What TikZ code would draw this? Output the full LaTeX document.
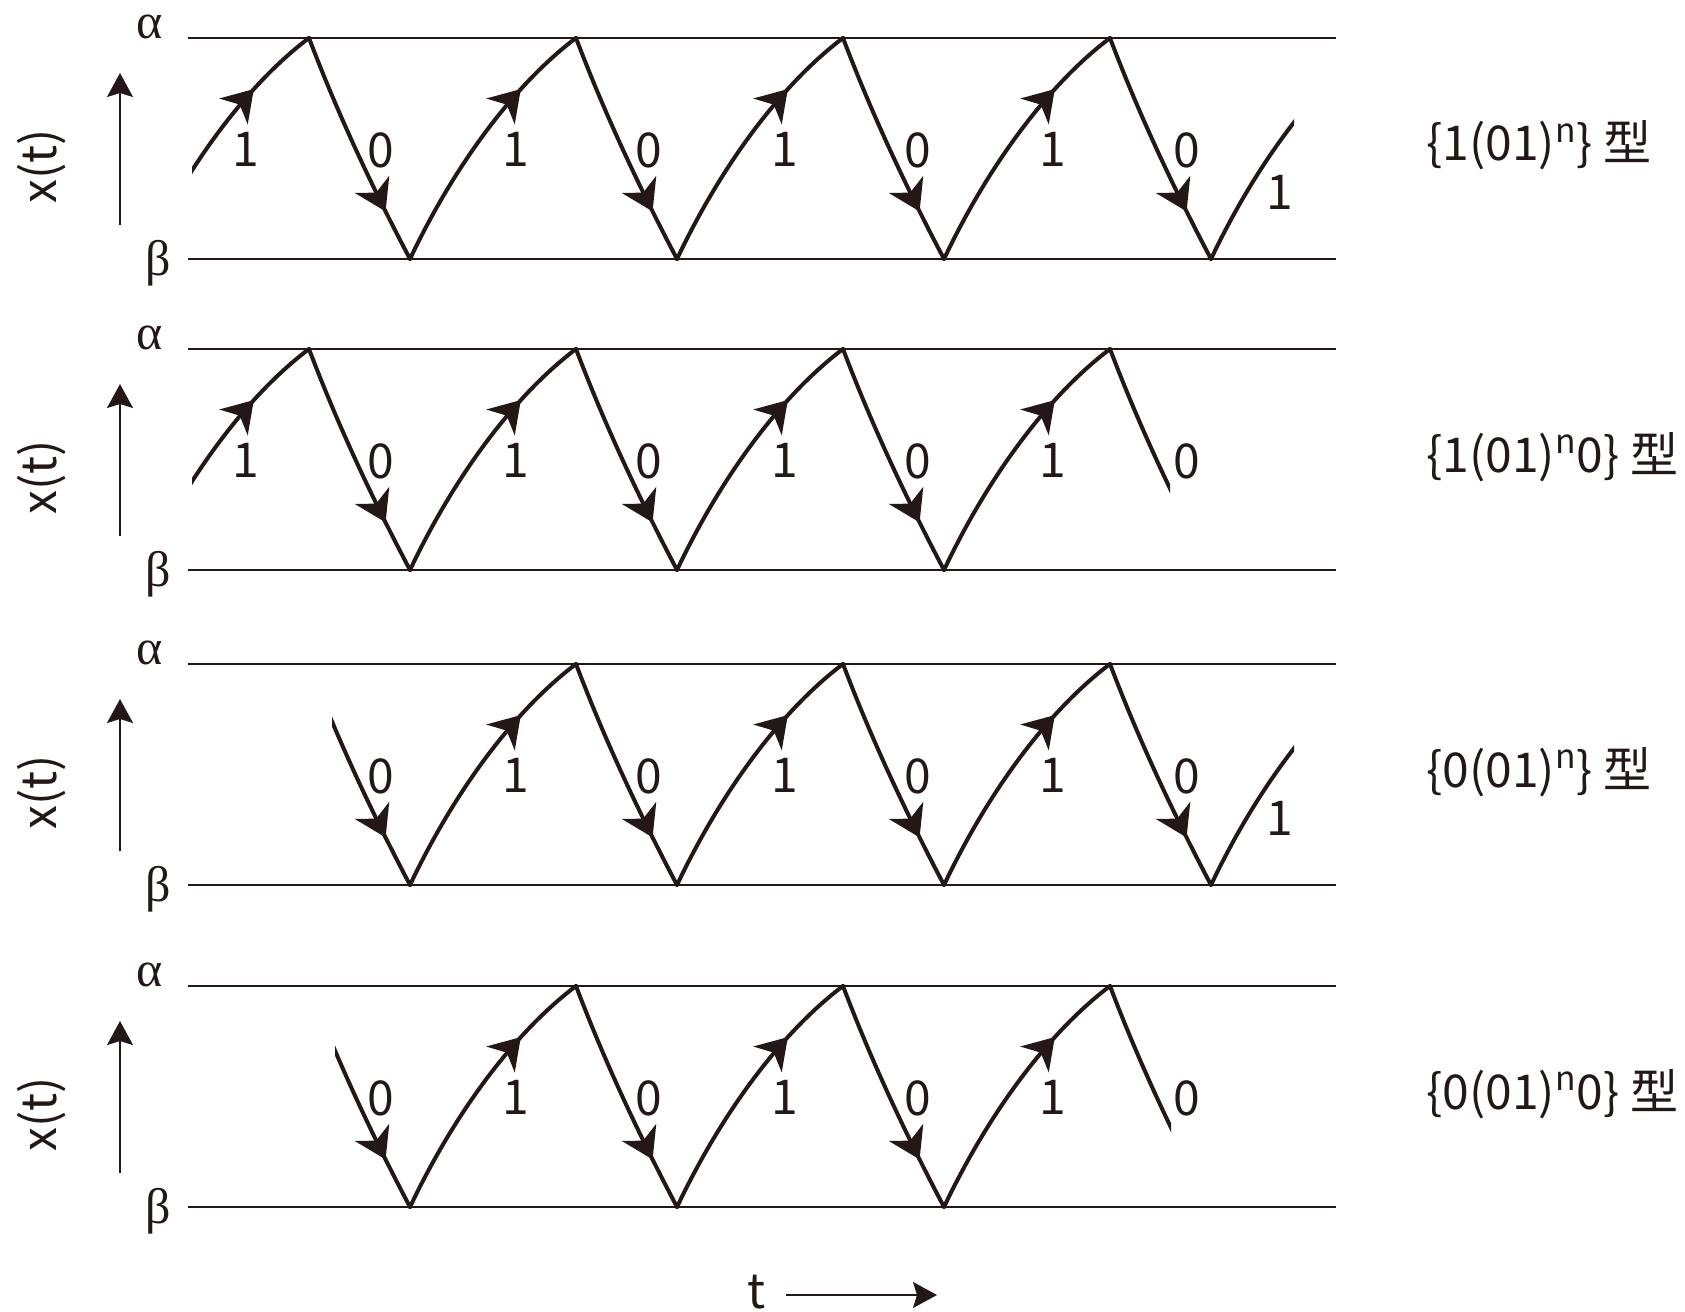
\documentclass[tikz,border=0pt]{standalone}
\usepackage{fontspec}
\setmainfont{Noto Sans CJK SC}
\newfontfamily\grkfont{Liberation Serif}
\usetikzlibrary{arrows.meta,decorations.markings}
\definecolor{ink}{RGB}{35,24,21}
% one rising / falling branch, #2 = start x, #3 = alpha level y
\newcommand{\rise}[3][]{\draw[trace,#1] (#2,#3+221) .. controls +(45,-95) and +(-61,46) .. (#2+166,#3);}
\newcommand{\fall}[3][]{\draw[trace,#1] (#2,#3) .. controls +(28,74) and +(-39,-74) .. (#2+101,#3+221);}
% levels, symbols and axis of one panel
\newcommand{\panel}[3]{%
  \coordinate (a#2) at (188,#1); \coordinate (ae#2) at (1336,#1);
  \coordinate (b#2) at (188,#1+221); \coordinate (be#2) at (1336,#1+221);
  \draw[level] (a#2) -- (ae#2);
  \draw[level] (b#2) -- (be#2);
  \node[sym] (alpha#2) at (150,#1-11) {α};
  \node[sym] (beta#2) at (158,#1+225) {β};
  \coordinate (ylo#2) at (120,#1+187); \coordinate (yhi#2) at (120,#1+35);
  \draw[axis] (ylo#2) -- (yhi#2);
  \node[rotate=90,inner sep=0pt] (xt#2) at (42,#1+128) {x(t)};
  \node[kind] (kind#2) at (1426,#1+123) {#3};
}

\begin{document}
\begin{tikzpicture}[x=0.5pt,y=-0.5pt,color=ink,font=\fontsize{24}{28}\selectfont,
  level/.style={draw=ink,line width=1pt},
  trace/.style={draw=ink,line width=2pt,line cap=round},
  axis/.style={draw=ink,line width=0.8pt,-{Stealth[length=12pt,width=13pt,inset=2pt]}},
  upmark/.style={postaction={decorate},decoration={markings,mark=at position 0.73 with {\arrow{Stealth[length=15pt,width=19pt,inset=4.5pt]}}}},
  downmark/.style={postaction={decorate},decoration={markings,mark=at position 0.78 with {\arrow{Stealth[length=15pt,width=19pt,inset=4.5pt]}}}},
  sym/.style={font=\grkfont\fontsize{25}{28}\selectfont,inner sep=0pt},
  bit/.style={inner sep=0pt},
  kind/.style={anchor=base west,inner sep=0pt},
]
\useasboundingbox (0,0) rectangle (1685,1311);

% {1(01)^n}
\panel{38}{1}{\{1(01)\textsuperscript{n}\} 型}
\begin{scope} \clip (192,0) rectangle (320,300); \rise[upmark]{143}{38} \end{scope}
\foreach \x in {309,576,843,1110} {\fall[downmark]{\x}{38}}
\foreach \x in {410,677,944} {\rise[upmark]{\x}{38}}
\begin{scope} \clip (1200,0) rectangle (1294,300); \rise{1211}{38} \end{scope}
\foreach \x in {246,516,785,1053} {\node[bit] at (\x,149) {1};}
\foreach \x in {381,649,918,1187} {\node[bit] at (\x,150) {0};}
\node[bit] at (1280,192) {1};

% {1(01)^n 0}
\panel{349}{2}{\{1(01)\textsuperscript{n}0\} 型}
\begin{scope} \clip (192,300) rectangle (320,600); \rise[upmark]{143}{349} \end{scope}
\foreach \x in {309,576,843} {\fall[downmark]{\x}{349}}
\foreach \x in {410,677,944} {\rise[upmark]{\x}{349}}
\begin{scope} \clip (1100,300) rectangle (1170,600); \fall{1110}{349} \end{scope}
\foreach \x in {246,516,785,1053} {\node[bit] at (\x,460) {1};}
\foreach \x in {381,649,918,1187} {\node[bit] at (\x,461) {0};}

% {0(01)^n}
\panel{664}{3}{\{0(01)\textsuperscript{n}\} 型}
\begin{scope} \clip (332,600) rectangle (420,900); \fall[downmark]{309}{664} \end{scope}
\foreach \x in {576,843,1110} {\fall[downmark]{\x}{664}}
\foreach \x in {410,677,944} {\rise[upmark]{\x}{664}}
\begin{scope} \clip (1200,600) rectangle (1294,900); \rise{1211}{664} \end{scope}
\foreach \x in {516,785,1053} {\node[bit] at (\x,775) {1};}
\foreach \x in {381,649,918,1187} {\node[bit] at (\x,776) {0};}
\node[bit] at (1280,818) {1};

% {0(01)^n 0}
\panel{986}{4}{\{0(01)\textsuperscript{n}0\} 型}
\begin{scope} \clip (335,950) rectangle (420,1230); \fall[downmark]{309}{986} \end{scope}
\foreach \x in {576,843} {\fall[downmark]{\x}{986}}
\foreach \x in {410,677,944} {\rise[upmark]{\x}{986}}
\begin{scope} \clip (1100,950) rectangle (1171,1230); \fall{1110}{986} \end{scope}
\foreach \x in {516,785,1053} {\node[bit] at (\x,1097) {1};}
\foreach \x in {381,649,918,1187} {\node[bit] at (\x,1098) {0};}

% time axis
\node[anchor=base,inner sep=0pt] (t) at (757,1308) {t};
\coordinate (tlo) at (786,1295); \coordinate (thi) at (937,1295);
\draw[axis] (tlo) -- (thi);
\end{tikzpicture}
\end{document}
